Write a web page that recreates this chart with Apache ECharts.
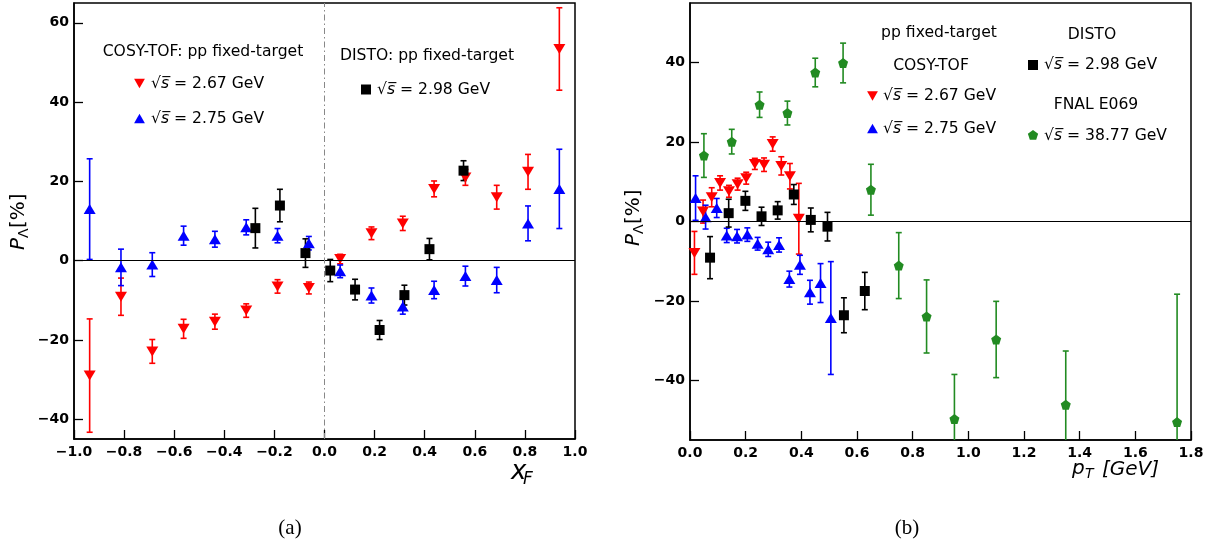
<!DOCTYPE html>
<html>
<head>
<meta charset="utf-8">
<script src="https://cdn.jsdelivr.net/npm/echarts@6/dist/echarts.min.js"></script>
<style>html,body{margin:0;padding:0;background:#fff}#c{width:1227px;height:547px}</style>
</head>
<body>
<div id="c"></div>
<script>
// ---------- Panel (a): P_Lambda vs x_F ----------
const xfBins = [-0.9375,-0.8125,-0.6875,-0.5625,-0.4375,-0.3125,-0.1875,-0.0625,0.0625,0.1875,0.3125,0.4375,0.5625,0.6875,0.8125,0.9375];
const aRedP   = [-29.0,-9.1,-22.9,-17.2,-15.4,-12.6,-6.5,-6.9,0.4,6.9,9.4,18.1,21.0,16.0,22.4,53.4];
const aRedE   = [14.3,4.7,3.0,2.4,1.9,1.7,1.7,1.5,1.2,1.6,1.8,2.0,2.0,3.0,4.4,10.4];
const aBlueP  = [13.0,-1.7,-1.0,6.3,5.4,8.4,6.3,4.4,-2.7,-8.8,-11.6,-7.4,-3.9,-4.9,9.4,18.1];
const aBlueE  = [12.7,4.6,3.0,2.4,2.0,1.9,1.8,1.7,1.6,1.9,1.9,2.2,2.5,3.2,4.4,10.0];
const aBlackX = [-0.276,-0.178,-0.076,0.023,0.122,0.220,0.319,0.419,0.555];
const aBlackP = [8.2,13.9,1.9,-2.5,-7.3,-17.5,-8.7,2.9,22.7];
const aBlackE = [5.0,4.1,3.6,2.8,2.6,2.4,2.5,2.7,2.5];

// ---------- Panel (b): P_Lambda vs p_T ----------
const bRedX   = [0.016,0.047,0.078,0.108,0.140,0.171,0.202,0.233,0.266,0.297,0.328,0.359,0.391];
const bRedP   = [-7.9,2.5,6.1,9.7,7.6,9.4,10.9,14.5,14.3,19.5,14.0,11.4,0.7];
const bRedE   = [5.4,2.9,2.4,1.8,1.5,1.5,1.5,1.4,1.7,1.8,2.3,3.2,8.9];
const bBlueX  = [0.020,0.056,0.096,0.132,0.169,0.206,0.243,0.281,0.320,0.357,0.395,0.431,0.469,0.506];
const bBlueP  = [5.9,1.1,3.4,-3.5,-3.7,-3.3,-5.6,-7.0,-5.9,-14.5,-10.9,-17.8,-15.5,-24.3];
const bBlueE  = [5.6,3.0,2.4,1.8,1.7,1.7,1.6,1.8,1.8,2.0,2.4,3.0,4.9,14.2];
const bBlackX = [0.072,0.139,0.199,0.257,0.315,0.373,0.434,0.494,0.553,0.628];
const bBlackP = [-9.1,2.1,5.2,1.3,2.8,6.8,0.4,-1.3,-23.6,-17.5];
const bBlackE = [5.3,3.5,2.4,2.3,2.2,2.5,3.0,3.6,4.4,4.7];
const bGreenX = [0.05,0.15,0.25,0.35,0.45,0.55,0.65,0.75,0.85,0.95,1.10,1.35,1.75];
const bGreenP = [16.6,20.1,29.4,27.3,37.5,39.9,8.0,-11.1,-23.9,-49.7,-29.7,-46.1,-50.5];
const bGreenE = [5.5,3.1,3.2,3.0,3.6,5.0,6.4,8.3,9.2,11.2,9.6,13.5,32.2];

const aYTicks = [-40,-20,0,20,40,60];
const bYTicks = [-40,-20,0,20,40];

const RED = '#ff0000', BLUE = '#0000ff', BLACK = '#000000', GREEN = '#228b22';
const FONT = 'DejaVu Sans';
const LFS = 15.6;
const PENT = 'path://M0,-10 L9.511,-3.09 L5.878,8.09 L-5.878,8.09 L-9.511,-3.09 Z';

function fmt(v, d) { const s = (d == null ? String(v) : v.toFixed(d)); return s.replace('-', '\u2212'); }

function errSeries(xs, ys, es, color, gi, extra) {
  const s = {
    type: 'custom', xAxisIndex: gi, yAxisIndex: gi, clip: true,
    data: xs.map((x, i) => [x, ys[i] - es[i], ys[i] + es[i]]),
    encode: { x: 0, y: [1, 2] },
    renderItem: function (params, api) {
      const lo = api.coord([api.value(0), api.value(1)]);
      const hi = api.coord([api.value(0), api.value(2)]);
      const c = 3, st = { stroke: color, lineWidth: 1.6 };
      return { type: 'group', children: [
        { type: 'line', shape: { x1: lo[0], y1: lo[1], x2: hi[0], y2: hi[1] }, style: st },
        { type: 'line', shape: { x1: lo[0] - c, y1: lo[1], x2: lo[0] + c, y2: lo[1] }, style: st },
        { type: 'line', shape: { x1: hi[0] - c, y1: hi[1], x2: hi[0] + c, y2: hi[1] }, style: st }
      ]};
    },
    silent: true
  };
  return Object.assign(s, extra || {});
}
function markSeries(xs, ys, color, gi, symbol, size, rot) {
  return {
    type: 'scatter', xAxisIndex: gi, yAxisIndex: gi,
    data: xs.map((x, i) => [x, ys[i]]),
    symbol: symbol, symbolSize: size, symbolRotate: rot || 0,
    itemStyle: { color: color, opacity: 1 }, silent: true
  };
}

const axisLabelX = { color: '#000', fontFamily: FONT, fontWeight: 'bold', fontSize: 14, margin: 6 };
const axisLabelY = { color: '#000', fontFamily: FONT, fontWeight: 'bold', fontSize: 14, margin: 5 };
const axLine = { show: true, onZero: false, lineStyle: { color: '#000', width: 1.5 } };
const axTick = { show: true, inside: true, length: 9, lineStyle: { color: '#000', width: 1.3 } };

const zeroLine = { silent: true, symbol: 'none', animation: false, label: { show: false },
  lineStyle: { color: '#000', width: 1, type: 'solid' }, data: [{ yAxis: 0 }] };
const vLine = { silent: true, symbol: 'none', animation: false, label: { show: false },
  lineStyle: { color: '#888', width: 1, type: [6, 3, 1.5, 3] }, data: [{ xAxis: 0 }] };

function tri(cx, cy, down, color) {
  const w = 5.4, h = 4.8;
  const pts = down ? [[cx - w, cy - h], [cx + w, cy - h], [cx, cy + h]] : [[cx - w, cy + h], [cx + w, cy + h], [cx, cy - h]];
  return { type: 'polygon', shape: { points: pts }, style: { fill: color } };
}
function sq(cx, cy) { return { type: 'rect', shape: { x: cx - 5, y: cy - 5, width: 10, height: 10 }, style: { fill: BLACK } }; }
function pent(cx, cy) {
  const r = 5.4, pts = [];
  for (let k = 0; k < 5; k++) { const a = -Math.PI / 2 + k * 2 * Math.PI / 5; pts.push([cx + r * Math.cos(a), cy + r * Math.sin(a)]); }
  return { type: 'polygon', shape: { points: pts }, style: { fill: GREEN } };
}
function txt(x, y, text, opts) {
  return { type: 'text', x: x, y: y, style: Object.assign({ text: text, fill: '#000', fontFamily: FONT, fontSize: LFS, align: 'center', verticalAlign: 'middle' }, opts || {}) };
}
function sqrtTxt(x, y, val) {
  return { type: 'text', x: x, y: y, style: {
    text: '{r|\u221A}{s|s\u0305}{n| = ' + val + ' GeV}', align: 'left', verticalAlign: 'middle', fill: '#000',
    rich: {
      r: { fontFamily: FONT, fontSize: LFS },
      s: { fontFamily: FONT, fontSize: LFS, fontStyle: 'italic' },
      n: { fontFamily: FONT, fontSize: LFS }
    } } };
}
function yLabel(cx, cy) {
  return { type: 'group', x: cx, y: cy, rotation: Math.PI / 2, children: [
    { type: 'text', x: -29, y: 0, style: { text: 'P', fontFamily: FONT, fontSize: 20, fontStyle: 'italic', fill: '#000', align: 'left', verticalAlign: 'middle' } },
    { type: 'text', x: -17, y: 5, style: { text: '\u039B', fontFamily: FONT, fontSize: 14, fill: '#000', align: 'left', verticalAlign: 'middle' } },
    { type: 'text', x: -7, y: 0, style: { text: '[%]', fontFamily: FONT, fontSize: 20, fill: '#000', align: 'left', verticalAlign: 'middle' } }
  ]};
}

const graphics = [
  // panel (a) legends
  txt(203, 52, 'COSY-TOF: pp fixed-target'),
  tri(139.5, 83.5, true, RED), sqrtTxt(151, 83.5, '2.67'),
  tri(139.5, 118.5, false, BLUE), sqrtTxt(151, 118.5, '2.75'),
  txt(427, 56, 'DISTO: pp fixed-target'),
  sq(366, 89.5), sqrtTxt(377, 89.5, '2.98'),
  // panel (b) legends
  txt(939, 32.5, 'pp fixed-target'),
  txt(931, 65.5, 'COSY-TOF'),
  tri(872.5, 96, true, RED), sqrtTxt(883, 96, '2.67'),
  tri(872.5, 128.5, false, BLUE), sqrtTxt(883, 128.5, '2.75'),
  txt(1092, 35, 'DISTO'),
  sq(1033, 65), sqrtTxt(1044, 65, '2.98'),
  txt(1096, 105, 'FNAL E069'),
  pent(1033, 135.5), sqrtTxt(1044, 135.5, '38.77'),
  // axis titles
  yLabel(19, 221),
  yLabel(634, 217),
  txt(511, 472, 'x', { fontSize: 26, fontStyle: 'italic', align: 'left' }),
  txt(523, 480, 'F', { fontSize: 17, fontStyle: 'italic', align: 'left' }),
  txt(1072, 469, 'p', { fontSize: 20, fontStyle: 'italic', align: 'left' }),
  txt(1085, 474, 'T', { fontSize: 14, fontStyle: 'italic', align: 'left' }),
  txt(1102, 470, '[GeV]', { fontSize: 20, fontStyle: 'italic', align: 'left' }),
  // captions
  txt(290, 528, '(a)', { fontFamily: 'Liberation Serif', fontSize: 21 }),
  txt(907, 528, '(b)', { fontFamily: 'Liberation Serif', fontSize: 21 })
];

const option = {
  animation: false,
  backgroundColor: '#fff',
  grid: [
    { left: 74, right: 652, top: 3, bottom: 108, show: true, borderColor: '#000', borderWidth: 1.5, containLabel: false },
    { left: 690, right: 36, top: 3, bottom: 107, show: true, borderColor: '#000', borderWidth: 1.5, containLabel: false }
  ],
  xAxis: [
    { type: 'value', gridIndex: 0, min: -1, max: 1, interval: 0.2, axisLine: axLine, axisTick: axTick,
      splitLine: { show: false }, axisLabel: Object.assign({ formatter: v => fmt(v, 1) }, axisLabelX) },
    { type: 'value', gridIndex: 1, min: 0, max: 1.8, interval: 0.2, axisLine: axLine, axisTick: axTick,
      splitLine: { show: false }, axisLabel: Object.assign({ formatter: v => fmt(v, 1) }, axisLabelX) }
  ],
  yAxis: [
    { type: 'value', gridIndex: 0, min: -45, max: 65, axisLine: axLine,
      axisTick: Object.assign({ customValues: aYTicks }, axTick), splitLine: { show: false },
      axisLabel: Object.assign({ customValues: aYTicks, formatter: v => fmt(v) }, axisLabelY) },
    { type: 'value', gridIndex: 1, min: -55, max: 55, axisLine: axLine,
      axisTick: Object.assign({ customValues: bYTicks }, axTick), splitLine: { show: false },
      axisLabel: Object.assign({ customValues: bYTicks, formatter: v => fmt(v) }, axisLabelY) }
  ],
  series: [
    // panel (a)
    errSeries(xfBins, aRedP, aRedE, RED, 0, { markLine: zeroLine }),
    markSeries(xfBins, aRedP, RED, 0, 'triangle', [12, 10], 180),
    errSeries(xfBins, aBlueP, aBlueE, BLUE, 0, { markLine: vLine }),
    markSeries(xfBins, aBlueP, BLUE, 0, 'triangle', [12, 10], 0),
    errSeries(aBlackX, aBlackP, aBlackE, BLACK, 0),
    markSeries(aBlackX, aBlackP, BLACK, 0, 'rect', 10, 0),
    // panel (b)
    errSeries(bRedX, bRedP, bRedE, RED, 1, { markLine: zeroLine }),
    markSeries(bRedX, bRedP, RED, 1, 'triangle', [12, 10], 180),
    errSeries(bBlueX, bBlueP, bBlueE, BLUE, 1),
    markSeries(bBlueX, bBlueP, BLUE, 1, 'triangle', [12, 10], 0),
    errSeries(bBlackX, bBlackP, bBlackE, BLACK, 1),
    markSeries(bBlackX, bBlackP, BLACK, 1, 'rect', 10, 0),
    errSeries(bGreenX, bGreenP, bGreenE, GREEN, 1),
    markSeries(bGreenX, bGreenP, GREEN, 1, PENT, 10, 0)
  ],
  graphic: graphics
};

const chart = echarts.init(document.getElementById('c'), null, { renderer: 'canvas' });
chart.setOption(option);
</script>
</body>
</html>
